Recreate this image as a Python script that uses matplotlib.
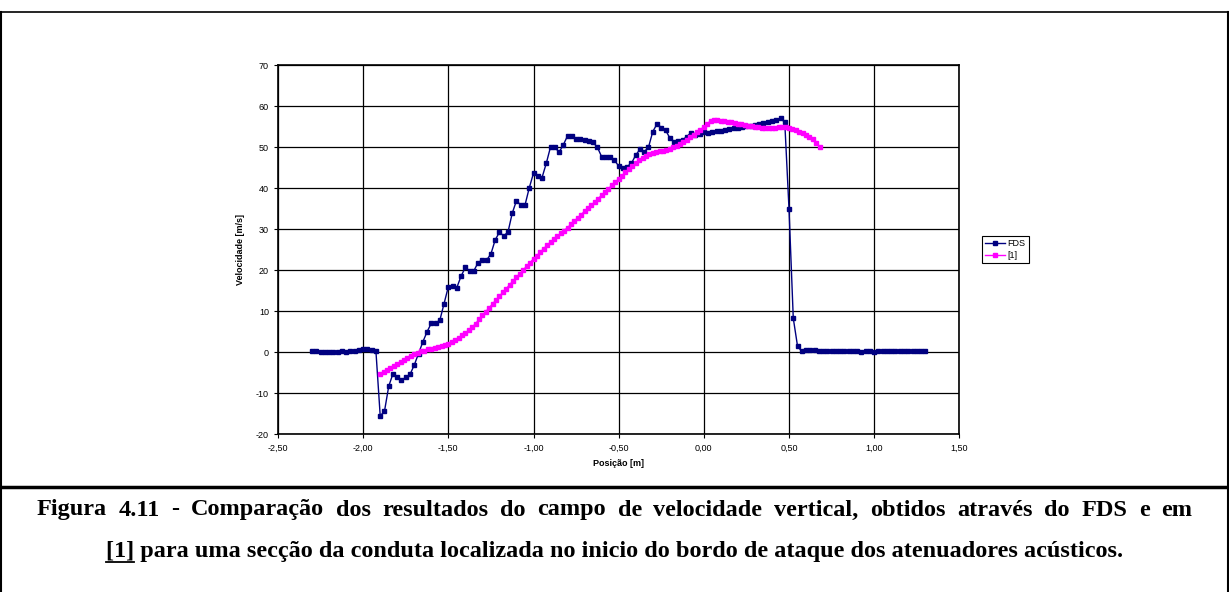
# Gráfico: velocidade vertical, FDS vs [1]

import matplotlib
matplotlib.use('Agg')
import matplotlib.pyplot as plt
from matplotlib.ticker import FuncFormatter, MultipleLocator
from matplotlib.lines import Line2D
import numpy as np

plt.rcParams['font.family'] = ['Liberation Sans', 'DejaVu Sans']

# FDS: posições de -2,30 a 1,30 m, passo 0,025 m
fds_inicio = -2.30
fds_passo = 0.025
fds_vel = [0.2, 0.2, 0.1, 0.1, 0.1, 0.1, 0.1, 0.2, 0.1, 0.2, 0.3, 0.5, 0.8, 0.7, 0.5, 0.2,
           -15.5, -14.4, -8.3, -5.2, -6.0, -6.8, -6.1, -5.4, -3.1, -0.3, 2.5, 5.0, 7.1, 7.1, 7.8,
           11.9, 16.0, 16.2, 15.8, 18.6, 20.7, 19.9, 19.9, 21.9, 22.5, 22.5, 24.0,
           27.4, 29.3, 28.4, 29.3, 33.9, 37.0, 35.9, 35.9, 40.1, 43.7, 43.1, 42.6, 46.1,
           50.1, 50.0, 48.8, 50.6, 52.8, 52.8, 52.0, 52.0, 51.8, 51.5, 51.2, 50.0, 47.7,
           47.6, 47.6, 46.9, 45.4, 44.9, 45.3, 46.1, 48.1, 49.5, 48.9, 50.0, 53.8, 55.7,
           54.8, 54.2, 52.3, 51.4, 51.6, 51.8, 52.6, 53.6, 53.0, 53.2, 53.8,
           53.6, 53.7, 53.9, 54.0, 54.2, 54.4, 54.6, 54.8, 55.0, 55.2, 55.3, 55.5, 55.7,
           55.9, 56.1, 56.4, 56.7, 57.1,
           56.1, 34.9, 8.3, 1.5, 0.2, 0.6,
           0.5, 0.5, 0.4, 0.4, 0.4, 0.3, 0.3, 0.3, 0.2, 0.3, 0.2, 0.2, 0.1, 0.2,
           0.2, 0.1, 0.2, 0.3, 0.2, 0.2, 0.3, 0.2, 0.2, 0.3, 0.2, 0.3, 0.3, 0.2]

# [1]: posições de -1,90 a 0,68 m, passo 0,02 m
ref_inicio = -1.90
ref_passo = 0.02
ref_vel = [-5.4, -4.9, -4.4, -3.8, -3.3, -2.8, -2.3, -1.8, -1.3, -0.8,
           -0.4, -0.1, 0.2, 0.4, 0.7, 0.9, 1.1, 1.4, 1.6, 1.9,
           2.1, 2.5, 2.9, 3.5, 4.1, 4.7, 5.4, 6.1, 7.0, 8.0,
           9.0, 9.9, 10.9, 11.8, 12.8, 13.7, 14.6, 15.5, 16.5, 17.4,
           18.3, 19.2, 20.1, 21.0, 21.9, 22.8, 23.6, 24.4, 25.3, 26.1,
           26.9, 27.6, 28.3, 29.0, 29.7, 30.4, 31.2, 32.0, 32.8, 33.6,
           34.4, 35.1, 35.9, 36.7, 37.5, 38.3, 39.1, 39.9, 40.7, 41.5,
           42.3, 43.1, 43.9, 44.7, 45.4, 46.1, 46.8, 47.4, 47.9, 48.3,
           48.6, 48.8, 49.0, 49.2, 49.4, 49.6, 50.0, 50.4, 50.9, 51.4,
           51.9, 52.5, 53.1, 53.7, 54.3, 55.0, 55.8, 56.4, 56.6, 56.6,
           56.5, 56.4, 56.2, 56.1, 55.9, 55.8, 55.6, 55.4, 55.3, 55.1,
           55.0, 54.9, 54.8, 54.8, 54.7, 54.7, 54.8, 54.9, 55.0, 54.9,
           54.7, 54.4, 54.1, 53.8, 53.5, 53.1, 52.6, 52.0, 51.1, 50.0]

fds_pos = fds_inicio + fds_passo * np.arange(len(fds_vel))
ref_pos = ref_inicio + ref_passo * np.arange(len(ref_vel))

fig = plt.figure(figsize=(12.29, 5.92), dpi=100)
ax = fig.add_axes([0.2262, 0.2664, 0.5544, 0.6233])

ax.plot(fds_pos, fds_vel, color='#000080', marker='s', markersize=3.5, linewidth=1, label='FDS')
ax.plot(ref_pos, ref_vel, color='#FF00FF', marker='s', markersize=3.5, linewidth=1, label='[1]')

ax.set_xlim(-2.5, 1.5)
ax.set_ylim(-20, 70)
ax.xaxis.set_major_locator(MultipleLocator(0.5))
ax.yaxis.set_major_locator(MultipleLocator(10))
ax.xaxis.set_major_formatter(FuncFormatter(lambda v, p: ('%.2f' % v).replace('.', ',')))
ax.yaxis.set_major_formatter(FuncFormatter(lambda v, p: '%d' % v))
ax.tick_params(labelsize=6.5, length=3, width=0.8, direction='out')
ax.grid(True, color='black', linewidth=0.9)
ax.set_axisbelow(True)
for s in ax.spines.values():
    s.set_linewidth(1.2)

ax.set_xlabel('Posição [m]', fontsize=6.5, fontweight='bold', labelpad=5)
ax.set_ylabel('Velocidade [m/s]', fontsize=6.5, fontweight='bold', labelpad=8)

leg = ax.legend(loc='upper left', bbox_to_anchor=(977 / 1229, 1 - 231 / 592),
                bbox_transform=fig.transFigure, fontsize=6.5, fancybox=False,
                edgecolor='black', framealpha=1, handlelength=2.2, borderpad=0.4,
                labelspacing=0.3, handletextpad=0.3)
leg.get_frame().set_linewidth(0.8)

# moldura da figura
fig.add_artist(Line2D([0.001, 0.999], [1 - 12 / 592, 1 - 12 / 592], color='black', linewidth=1.2))
fig.add_artist(Line2D([0.001, 0.001], [0, 1 - 12 / 592], color='black', linewidth=1.5))
fig.add_artist(Line2D([0.999, 0.999], [0, 1 - 12 / 592], color='black', linewidth=1.5))
fig.add_artist(Line2D([0, 1], [1 - 487 / 592, 1 - 487 / 592], color='black', linewidth=2.5))

# legenda da figura
linha1 = 'Figura 4.11 - Comparação dos resultados do campo de velocidade vertical, obtidos através do FDS e em'
linha2 = '[1] para uma secção da conduta localizada no inicio do bordo de ataque dos atenuadores acústicos.'
cap = dict(fontsize=17.5, fontweight='bold', family=['Liberation Serif', 'DejaVu Serif'])

fig.canvas.draw()
r = fig.canvas.get_renderer()
W, H = fig.bbox.width, fig.bbox.height

# linha 1 justificada entre x=37 e x=1192
palavras = linha1.split(' ')
txts = [fig.text(0, 1 - 510 / 592, p, ha='left', va='center', **cap) for p in palavras]
larg = [t.get_window_extent(r).width for t in txts]
esp = (1192 - 37 - sum(larg)) / (len(palavras) - 1)
x = 37
for t, w in zip(txts, larg):
    t.set_x(x / W)
    x += w + esp

t2 = fig.text(0.5, 1 - 552 / 592, linha2, ha='center', va='center', **cap)

# sublinhado de [1]
bb = t2.get_window_extent(r)
tmp = fig.text(0, 0, '[1]', **cap)
w1 = tmp.get_window_extent(r).width
tmp.remove()
yline = (bb.y0 + 1) / H
fig.add_artist(Line2D([bb.x0 / W, (bb.x0 + w1) / W], [yline, yline], color='black', linewidth=1.3))

fig.savefig('out.png', dpi=100)
